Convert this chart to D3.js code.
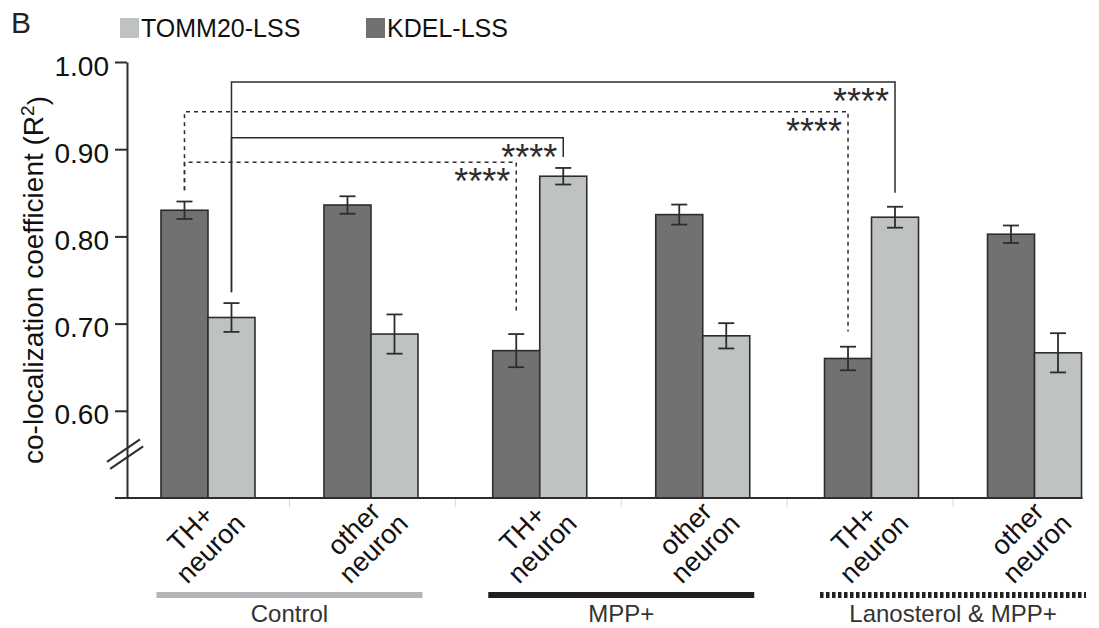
<!DOCTYPE html>
<html>
<head>
<meta charset="utf-8">
<script src="https://cdn.jsdelivr.net/npm/d3@7/dist/d3.min.js"></script>
<style>
  html, body { margin: 0; padding: 0; background: #fff; }
  svg { display: block; font-family: "Liberation Sans", Arial, sans-serif; }
</style>
</head>
<body>
<svg id="chart" width="1099" height="628"></svg>
<script>
// ---------------- data ----------------
const treatments = ["Control", "MPP+", "Lanosterol & MPP+"];
const cells = ["TH+|neuron", "other|neuron"];
const seriesNames = ["KDEL-LSS", "TOMM20-LSS"];
// values per (treatment, cell) in order: Control TH+, Control other, MPP TH+, MPP other, Lano TH+, Lano other
const kdelValues  = [0.830, 0.836, 0.669, 0.825, 0.660, 0.8025];
const kdelErrors  = [0.010, 0.010, 0.019, 0.0115, 0.0135, 0.010];
const tommValues  = [0.707, 0.688, 0.869, 0.686, 0.822, 0.6665];
const tommErrors  = [0.0165, 0.0225, 0.0095, 0.0145, 0.012, 0.0225];
const yTicks = [0.60, 0.70, 0.80, 0.90, 1.00];
// significance brackets (values in data units)
const brackets = [
  { from: 0, to: 4, series: "TOMM20-LSS", y1: 0.736, top: 0.977, y2: 0.850, dashed: false, label: "****" },
  { from: 0, to: 2, series: "TOMM20-LSS", y1: 0.736, top: 0.913, y2: 0.891, dashed: false, label: "****" },
  { from: 0, to: 4, series: "KDEL-LSS",   y1: 0.853, top: 0.943, y2: 0.691, dashed: true,  label: "****" },
  { from: 0, to: 2, series: "KDEL-LSS",   y1: 0.853, top: 0.885, y2: 0.715, dashed: true,  label: "****" }
];

// ---------------- layout ----------------
const svg = d3.select("#chart");
const colors = { "KDEL-LSS": "#717171", "TOMM20-LSS": "#bfc2c3" };
const ink = "#2e2c2d";
const barW = 47;

const y = d3.scaleLinear().domain([0.5, 1.0]).range([498, 62]);
const xT = d3.scaleBand().domain(treatments).range([123.6, 1118.9]);
const xC = d3.scalePoint().domain(cells).range([-81.5, 81.5]);
const xS = d3.scaleBand().domain(seriesNames).range([-barW, barW]);

const rows = [];
treatments.forEach((t, ti) => cells.forEach((c, ci) => {
  const i = ti * 2 + ci;
  rows.push({ i, t, c, center: xT(t) + xT.bandwidth() / 2 + xC(c),
    KDEL: kdelValues[i], KDELe: kdelErrors[i], TOMM: tommValues[i], TOMMe: tommErrors[i] });
}));
const barX = (r, s) => r.center + xS(s) + xS.bandwidth() / 2;
const val = (r, s) => s === "KDEL-LSS" ? r.KDEL : r.TOMM;
const err = (r, s) => s === "KDEL-LSS" ? r.KDELe : r.TOMMe;

// separators under baseline
const seps = [];
treatments.forEach(t => { seps.push(xT(t) + xT.bandwidth() / 2); });
treatments.slice(1).forEach(t => { seps.push(xT(t)); });
svg.append("g").selectAll("line").data(seps).join("line")
  .attr("x1", d => d).attr("x2", d => d).attr("y1", 499).attr("y2", 507)
  .attr("stroke", "#d8d8d8").attr("stroke-width", 1);

// bars
const barData = [];
rows.forEach(r => seriesNames.forEach(s => barData.push({ r, s })));
svg.append("g").selectAll("rect").data(barData).join("rect")
  .attr("x", d => d.r.center + xS(d.s))
  .attr("y", d => y(val(d.r, d.s)))
  .attr("width", xS.bandwidth())
  .attr("height", d => y(0.5) - y(val(d.r, d.s)))
  .attr("fill", d => colors[d.s])
  .attr("stroke", ink).attr("stroke-width", 1.6);

// error bars
const eg = svg.append("g").attr("stroke", ink).attr("stroke-width", 1.8);
barData.forEach(d => {
  const cx = barX(d.r, d.s), v = val(d.r, d.s), e = err(d.r, d.s);
  eg.append("line").attr("x1", cx).attr("x2", cx).attr("y1", y(v + e)).attr("y2", y(v - e));
  eg.append("line").attr("x1", cx - 8).attr("x2", cx + 8).attr("y1", y(v + e)).attr("y2", y(v + e));
  eg.append("line").attr("x1", cx - 8).attr("x2", cx + 8).attr("y1", y(v - e)).attr("y2", y(v - e));
});

// y axis
const yAxis = svg.append("g").attr("transform", "translate(127,0)")
  .call(d3.axisLeft(y).tickValues(yTicks).tickFormat(d3.format(".2f")).tickSize(12).tickSizeOuter(0).tickPadding(6));
yAxis.select(".domain").attr("stroke", ink).attr("stroke-width", 2);
yAxis.selectAll(".tick line").attr("stroke", ink).attr("stroke-width", 2);
yAxis.selectAll(".tick text").attr("font-size", 28).attr("fill", "#111").attr("dy", "0.47em")
  .attr("font-family", "'Liberation Sans', Arial, sans-serif");

// baseline
svg.append("line").attr("x1", 115).attr("x2", rows[5].center + barW + 1)
  .attr("y1", y(0.5)).attr("y2", y(0.5)).attr("stroke", ink).attr("stroke-width", 2);

// axis break marks
[0, 7].forEach(off => {
  svg.append("line").attr("x1", 107 + off * 0.45).attr("y1", y(0.55) + 7.5 + off)
    .attr("x2", 140 + off * 0.45).attr("y2", y(0.55) - 15 + off)
    .attr("stroke", ink).attr("stroke-width", 2);
});

// y title
svg.append("text").attr("transform", "translate(43,280) rotate(-90)")
  .attr("text-anchor", "middle").attr("font-size", 28).attr("fill", "#111")
  .text("co-localization coefficient (R")
  .call(t => { t.append("tspan").attr("dy", "-0.45em").attr("font-size", 19).text("2");
               t.append("tspan").attr("dy", "0.45em").text(")"); });

// x labels
rows.forEach(r => {
  const [l1, l2] = r.c.split("|");
  const t = svg.append("text")
    .attr("transform", `translate(${r.center - 8},538) rotate(-45)`)
    .attr("text-anchor", "middle").attr("font-size", 27).attr("fill", "#111");
  t.append("tspan").attr("x", 0).attr("y", -4).text(l1);
  t.append("tspan").attr("x", 0).attr("y", 24).text(l2);
});

// group lines and labels
const gl = svg.append("g");
treatments.forEach((t, i) => {
  const c = xT(t) + xT.bandwidth() / 2;
  const line = gl.append("line").attr("x1", c - 133).attr("x2", c + 133).attr("y1", 595).attr("y2", 595)
    .attr("stroke-width", 6);
  if (i === 0) line.attr("stroke", "#b6b6ba");
  else if (i === 1) line.attr("stroke", "#231f20");
  else line.attr("stroke", "#231f20").attr("stroke-dasharray", "3.5,2.5");
  gl.append("text").attr("x", c).attr("y", 622).attr("text-anchor", "middle")
    .attr("font-size", 24).attr("fill", "#333").text(t);
});

// brackets
const bg = svg.append("g");
brackets.forEach(b => {
  const xa = barX(rows[b.from], b.series), xb = barX(rows[b.to], b.series);
  const p = d3.path();
  p.moveTo(xa, y(b.y1)); p.lineTo(xa, y(b.top)); p.lineTo(xb, y(b.top)); p.lineTo(xb, y(b.y2));
  bg.append("path").attr("d", p.toString()).attr("fill", "none").attr("stroke", ink)
    .attr("stroke-width", 1.5).attr("stroke-dasharray", b.dashed ? "4,4" : null);
  bg.append("text").attr("x", xb - 6).attr("y", y(b.top) + 32).attr("text-anchor", "end")
    .attr("font-size", 36).attr("fill", ink).text(b.label);
});

// panel letter and legend
svg.append("text").attr("x", 11).attr("y", 33).attr("font-size", 30).attr("fill", "#222").text("B");
const legendItems = [
  { s: "TOMM20-LSS", x: 120 },
  { s: "KDEL-LSS", x: 366 }
];
legendItems.forEach(d => {
  svg.append("rect").attr("x", d.x).attr("y", 18).attr("width", 19).attr("height", 20).attr("fill", colors[d.s]);
  svg.append("text").attr("x", d.x + 21).attr("y", 37).attr("font-size", 25).attr("fill", "#111").text(d.s);
});
</script>
</body>
</html>
